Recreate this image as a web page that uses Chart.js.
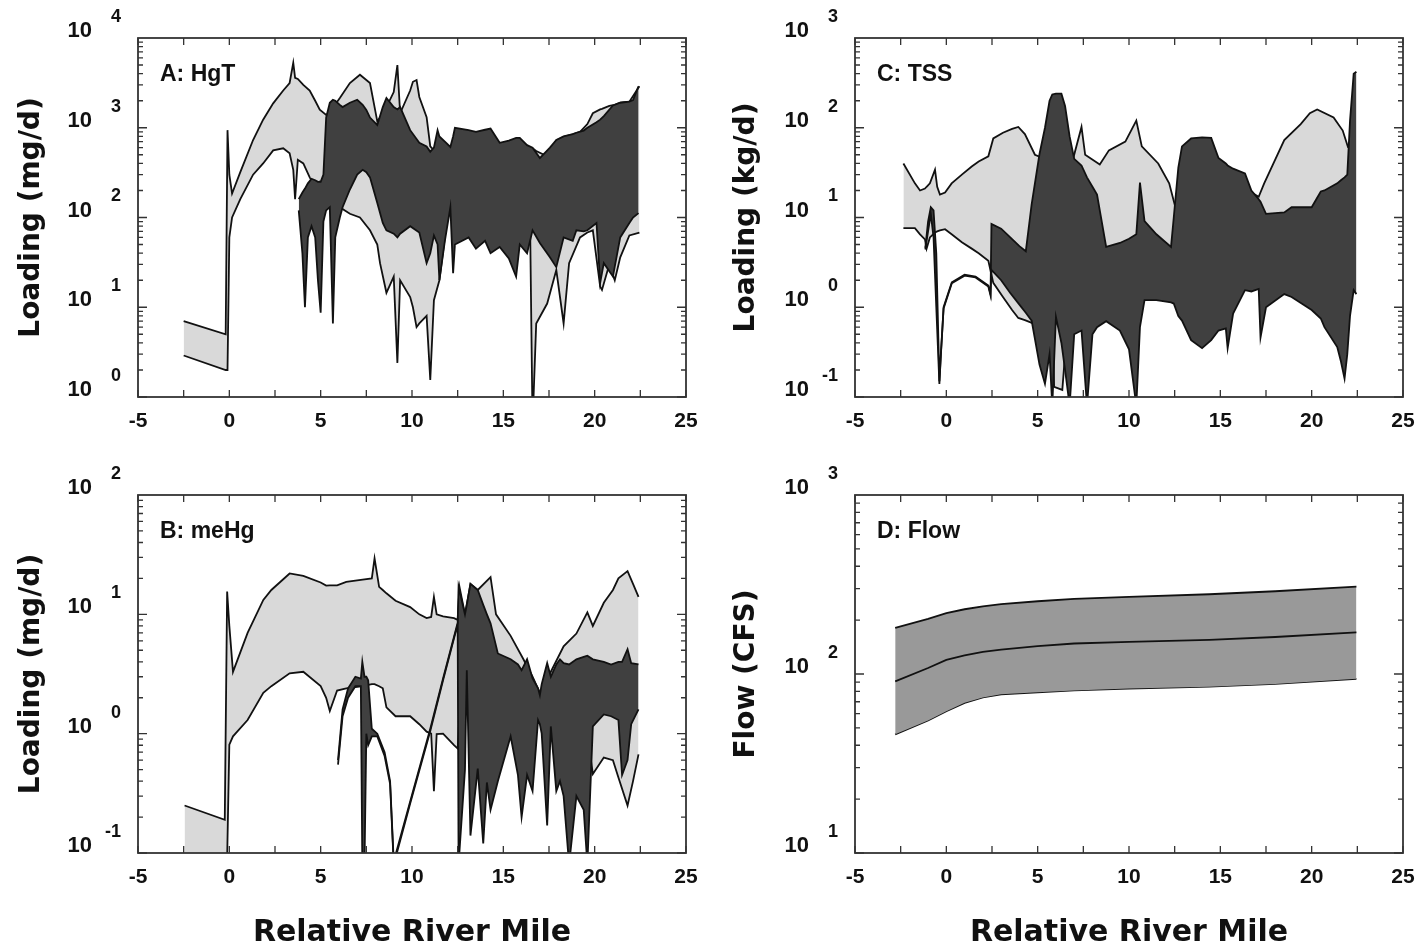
<!DOCTYPE html>
<html>
<head>
<meta charset="utf-8">
<script src="https://cdn.jsdelivr.net/npm/chart.js@4.4.1/dist/chart.umd.min.js"></script>
<style>
  html, body { margin: 0; padding: 0; background: #fff; }
  #wrap { position: relative; width: 1420px; height: 949px; }
  canvas { position: absolute; }
</style>
</head>
<body>
<div id="wrap">
  <canvas id="cA" width="710" height="445" style="left:0;top:0"></canvas>
  <canvas id="cC" width="710" height="445" style="left:710px;top:0"></canvas>
  <canvas id="cB" width="710" height="504" style="left:0;top:445px"></canvas>
  <canvas id="cD" width="710" height="504" style="left:710px;top:445px"></canvas>
</div>
<script>
'use strict';

// ============================================================
//  Data (log values, river mile on x)
// ============================================================

// --- A: HgT (mg/d) ---
const A_LIGHT_X  = [-2.5,-0.2,-0.1,0.0,0.15,0.6,1.3,1.85,2.4,2.95,3.3,3.5,3.6,3.75,4.05,4.4,4.7,4.95,5.3,5.5,6.05,6.6,7.15,7.7,8.1,8.25,8.6,9.0,9.2,9.35,9.9,10.05,10.25,10.4,10.8,11.0,11.2,11.5,11.8,12.0,16.45,16.6,16.8,17.4,17.9,18.3,18.6,19.2,19.6,19.9,20.3,20.4,20.8,21.1,21.4,21.9,22.45];
const A_LIGHT_HI = [7,5,940,300,185,320,730,1230,1870,2600,3150,5300,3600,3500,3000,2600,2000,1590,1390,1500,2150,3150,3900,3150,1180,1300,1700,2500,5000,1450,2600,3250,3400,2200,1310,620,560,560,650,400,400,590,550,480,720,790,820,900,1100,1450,1600,1620,1750,1800,1900,1950,2900];
const A_LIGHT_LO = [2.9,2.0,2.0,60,100,160,300,400,560,590,520,340,160,440,400,280,220,250,185,170,130,110,100,72,50,31,14.5,22,2.4,20,13,10,6,6.6,8,1.55,12,20,60,150,150,0.5,6.6,11,26,6.6,31,60,68,72,17,15.6,30,20,36,63,68];

const A_DARK_X  = [3.8,4.0,4.14,4.3,4.5,4.7,4.85,5.0,5.15,5.3,5.5,5.67,5.8,6.05,6.2,6.6,7.0,7.3,7.5,7.7,8.1,8.4,8.6,9.0,9.2,9.35,9.9,10.4,10.8,11.0,11.2,11.4,11.5,11.8,12.1,12.25,12.35,13.1,13.5,14.0,14.3,14.8,15.3,15.7,15.9,16.3,16.6,17.0,17.55,17.9,18.3,18.8,19.0,19.4,19.6,20.1,20.3,20.5,21.0,21.4,21.9,22.1,22.4];
const A_DARK_HI = [160,190,210,240,270,260,250,250,300,1300,1900,2050,2000,1800,1700,1900,2050,1800,1580,1300,1070,1700,2150,1700,1600,1700,940,680,620,540,600,940,800,700,610,800,1000,940,900,950,980,680,720,770,770,640,600,460,600,730,800,850,880,930,1000,1150,1230,1350,1770,1900,1950,2030,2900];
const A_DARK_LO = [120,40,10,60,80,60,20,8.7,90,120,130,6.6,60,100,130,205,300,340,320,280,145,87,72,66,60,66,80,68,31,40,63,50,20,55,130,24,50,60,45,55,40,47,35,22,50,40,72,52,36,28,60,55,72,70,72,87,18.6,31,22,60,87,100,112];

// --- B: meHg (mg/d) ---
const B_LIGHT_X  = [-2.45,-0.25,-0.12,0.0,0.2,1.0,1.86,2.3,3.3,4.05,5.0,5.3,5.5,5.9,6.4,7.3,7.8,7.95,8.2,8.4,8.6,9.1,9.9,10.4,10.8,11.05,11.2,11.35,11.7,12.3,12.5,12.6,12.9,13.2,13.6,14.3,14.6,15.4,16.1,16.6,17.0,17.6,18.3,19.0,19.6,19.9,20.5,21.0,21.3,21.8,22.1,22.4];
const B_LIGHT_HI = [0.25,0.19,15.5,8,3.3,7,13.2,16,22,21,18.5,17.4,17.5,17.5,18.7,19.5,20,29.4,17,16,15,13,11.5,10,9.3,9.5,14,10,9.6,9.3,9.0,17,10,18,16,20.5,10,6.6,4.2,3.0,2.2,3.3,5.4,6.9,10.4,8.0,12.5,16,20,23,18,14];
const B_LIGHT_LO = [0.09,0.09,0.09,0.81,0.95,1.3,2.2,2.5,3.2,3.3,2.5,2.0,1.55,2.3,2.4,2.5,2.6,2.6,2.5,2.4,1.66,1.4,1.4,1.2,1.04,1.0,0.33,0.99,1.0,0.8,0.75,1.5,3.5,3.5,1.5,1.5,1.5,1.5,1.5,1.5,1.5,1.3,1.2,1.2,1.0,0.46,0.63,0.6,0.43,0.25,0.4,0.67];

const B_DARK_X  = [5.95,6.2,6.5,6.9,7.2,7.28,7.4,7.5,7.6,7.8,8.1,8.5,8.8,9.0,9.9,11.0,11.7,12.3,12.5,12.55,12.9,13.0,13.2,13.6,13.9,14.1,14.3,14.7,15.4,15.8,16.0,16.3,16.6,16.9,17.0,17.1,17.4,17.6,17.9,18.1,18.3,18.6,19.0,19.4,19.6,19.9,20.5,20.9,21.3,21.5,21.8,22.0,22.4];
const B_DARK_HI = [0.6,1.6,2.4,3.0,2.9,4.0,3.0,3.0,2.8,1.1,1.0,0.7,0.4,0.085,0.27,1.1,2.9,6.5,8.5,17,10,12,18,16,12,10,8.4,4.7,4.2,3.8,3.4,4.2,2.9,2.4,2.1,2.6,3.9,3.0,3.8,4.2,3.9,3.8,4.2,4.4,4.5,4.2,4.0,3.8,4.0,4.0,5.1,3.9,3.8];
const B_DARK_LO = [0.55,1.4,2.0,2.5,2.5,0.08,0.08,1.0,0.8,0.95,0.95,0.65,0.38,0.08,0.26,1.05,2.8,6.3,8.2,0.08,0.5,3.4,0.14,0.51,0.12,0.39,0.23,0.4,0.95,0.45,0.2,0.45,0.33,1.3,1.2,1.0,0.17,1.15,0.33,0.4,0.3,0.08,0.3,0.23,0.08,1.15,1.45,1.4,1.3,0.45,0.6,1.2,1.6];

// --- C: TSS (kg/d) ---
const C_LIGHT_X  = [-2.35,-1.72,-1.44,-1.17,-1.08,-0.9,-0.62,-0.5,-0.35,-0.07,0.29,0.85,1.39,1.77,2.3,2.57,3.1,3.6,3.94,4.3,4.85,5.4,5.85,5.9,6.35,6.5,6.9,7.4,7.6,8.4,8.9,9.8,10.4,10.7,11.6,12.2,12.5,13.5,16.5,17.1,17.4,18.5,19.4,19.9,20.3,21.2,21.7,22.0];
const C_LIGHT_HI = [40,24,20,21,22,24,34,22,18,19,24,30,37,42,48,76,88,97,102,85,50,45,44,44,44,44,42,102,50,39,56,70,120,62,40,24,14,20,20,17,24,73,110,145,160,130,93,60];
const C_LIGHT_LO = [7.6,7.6,6.5,5.7,4.5,6,6.8,7,7.2,7.4,6.5,5.3,4.5,4.0,3.3,1.87,1.3,0.93,0.76,0.72,0.65,0.5,0.5,0.13,0.12,0.3,2,2,2,2,2,2,2,2,2,2,2,2,2,2,2,2,2,2,2,2,2,2];

const C_DARK_X  = [-1.15,-1.0,-0.85,-0.7,-0.55,-0.38,-0.3,-0.15,0.3,1.0,1.6,2.3,2.42,2.47,3.0,3.5,4.0,4.35,4.67,5.1,5.4,5.65,5.8,6.0,6.3,6.5,6.75,7.0,7.4,7.7,8.0,8.25,8.75,9.5,10.0,10.4,10.6,10.85,11.5,12.3,12.45,12.7,12.9,13.4,14.0,14.5,14.9,15.3,15.4,15.7,16.35,16.7,17.1,17.2,17.5,18.5,18.9,20.0,20.5,20.7,21.4,21.6,21.8,21.95,22.1,22.3,22.45];
const C_DARK_HI = [4.6,9,13,12,4,0.15,0.3,1.0,1.9,2.3,2.2,1.75,1.4,8.5,7.5,6.0,4.8,4.2,14,51,100,200,235,240,240,175,80,45,38,28,22,18,4.7,5.2,5.8,6.5,24.5,9.1,6.5,4.7,10,36,62,76,78,77,46,40,38,35,31,20,16,15,11,11.4,13,13,19.5,20,24,26,28,30,120,400,420];
const C_DARK_LO = [4.4,7,11,6,1.0,0.14,0.29,0.97,1.85,2.25,2.15,1.7,1.35,2.6,2.0,1.44,1.07,0.87,0.71,0.23,0.14,0.3,0.08,0.78,0.4,0.2,0.08,0.5,0.55,0.08,0.5,0.6,0.7,0.55,0.34,0.08,0.6,1.2,1.2,1.13,1.1,0.8,0.71,0.43,0.35,0.43,0.55,0.58,0.35,0.85,1.55,1.5,1.6,0.46,1.0,1.4,1.3,0.93,0.75,0.6,0.36,0.25,0.16,0.3,0.8,1.55,1.4];

// --- D: Flow (CFS) ---
const D_X     = [-2.8,-1,0,1,2,3,5,7,10,14.4,18,22.45];
const D_UPPER = [181,203,219,230,239,246,255,263,270,279,290,308];
const D_MID   = [91,108,120,127,133,137,143,148,151,155,161,171];
const D_LOWER = [46,55,62,69,74,77,79,81,83,85,88,94];

const X_TICKS_MINOR = 2.5;

// ============================================================
//  Styling
// ============================================================
const LIGHT = '#d9d9d9';
const DARK  = '#404040';
const MID   = '#999999';
const INK   = '#111111';
const SANS  = '"Liberation Sans", Arial, Helvetica, sans-serif';
const WIDE  = '"DejaVu Sans", sans-serif';

function pts(xs, ys) { return xs.map((x, i) => ({ x, y: ys[i] })); }

function line(data, fill, bg) {
  return {
    data, fill, backgroundColor: bg || 'transparent',
    borderColor: INK, borderWidth: 1.8, pointRadius: 0, tension: 0,
  };
}

// frame, inward ticks, "10^k" labels and panel tag
const framePlugin = {
  id: 'frame',
  afterDraw(chart, args, o) {
    const { ctx, chartArea: a, scales: { x, y } } = chart;
    ctx.save();
    ctx.strokeStyle = '#333';
    ctx.lineWidth = 1.8;
    ctx.strokeRect(a.left, a.top, a.width, a.height);

    ctx.lineWidth = 1.3;
    ctx.beginPath();
    for (let v = x.min; v <= x.max + 1e-6; v += X_TICKS_MINOR) {
      const px = x.getPixelForValue(v);
      ctx.moveTo(px, a.top);    ctx.lineTo(px, a.top + 7);
      ctx.moveTo(px, a.bottom); ctx.lineTo(px, a.bottom - 7);
    }
    const k0 = Math.round(Math.log10(y.min));
    const k1 = Math.round(Math.log10(y.max));
    for (let k = k0; k < k1; k++) {
      for (let m = 1; m < 10; m++) {
        const py = y.getPixelForValue(m * Math.pow(10, k));
        const len = m === 1 ? 9 : 5;
        ctx.moveTo(a.left, py);  ctx.lineTo(a.left + len, py);
        ctx.moveTo(a.right, py); ctx.lineTo(a.right - len, py);
      }
    }
    ctx.stroke();

    ctx.fillStyle = INK;
    ctx.textBaseline = 'middle';
    for (let k = k0; k <= k1; k++) {
      const py = y.getPixelForValue(Math.pow(10, k));
      ctx.textAlign = 'right';
      ctx.font = 'bold 22px ' + SANS;
      ctx.fillText('10', a.left - 46, py - 7);
      ctx.font = 'bold 18px ' + SANS;
      ctx.fillText(String(k), a.left - 17, py - 21);
    }
    ctx.textAlign = 'left';
    ctx.font = 'bold 23px ' + SANS;
    ctx.fillText(o.label, a.left + 22, a.top + 37);
    ctx.restore();
  }
};

function makePanel(id, p) {
  return new Chart(document.getElementById(id), {
    type: 'line',
    data: { datasets: p.datasets },
    options: {
      responsive: false, animation: false, events: [],
      layout: { padding: { left: 0, top: p.top, right: p.right, bottom: 0 } },
      plugins: { legend: { display: false }, tooltip: { enabled: false }, frame: { label: p.label } },
      scales: {
        x: {
          type: 'linear', min: -5, max: 25,
          grid: { display: false, drawTicks: false }, border: { display: false },
          ticks: { stepSize: 5, maxRotation: 0, padding: 12, color: INK,
                   font: { family: SANS, size: 21, weight: 'bold' } },
          title: { display: !!p.xTitle, text: p.xTitle || '', color: INK, padding: { top: 0, bottom: -2 },
                   font: { family: WIDE, size: 30, weight: 'bold' } },
          afterFit(s) { s.height = p.xh; s.paddingLeft = 0; s.paddingRight = 0; }
        },
        y: {
          type: 'logarithmic', min: p.yMin, max: p.yMax,
          grid: { display: false, drawTicks: false }, border: { display: false },
          ticks: { display: false },
          title: { display: true, text: p.yTitle, color: INK, padding: { top: p.tpad, bottom: 0 },
                   font: { family: WIDE, size: 28, weight: 'bold' } },
          afterFit(s) { s.width = p.yw; s.paddingTop = 0; s.paddingBottom = 0; }
        }
      }
    },
    plugins: [framePlugin]
  });
}

// dark band first so it is painted over the light one
function bands(lx, lhi, llo, dx, dhi, dlo) {
  return [
    line(pts(dx, dlo), false),
    line(pts(dx, dhi), '-1', DARK),
    line(pts(lx, llo), false),
    line(pts(lx, lhi), '-1', LIGHT),
  ];
}

makePanel('cA', {
  label: 'A: HgT', yTitle: 'Loading (mg/d)', yMin: 1, yMax: 1e4,
  top: 38, right: 24, yw: 138, xh: 48, tpad: 15,
  datasets: bands(A_LIGHT_X, A_LIGHT_HI, A_LIGHT_LO, A_DARK_X, A_DARK_HI, A_DARK_LO)
});

makePanel('cC', {
  label: 'C: TSS', yTitle: 'Loading (kg/d)', yMin: 0.1, yMax: 1e3,
  top: 38, right: 17, yw: 145, xh: 48, tpad: 20,
  datasets: bands(C_LIGHT_X, C_LIGHT_HI, C_LIGHT_LO, C_DARK_X, C_DARK_HI, C_DARK_LO)
});

makePanel('cB', {
  label: 'B: meHg', yTitle: 'Loading (mg/d)', xTitle: 'Relative River Mile', yMin: 0.1, yMax: 100,
  top: 50, right: 24, yw: 138, xh: 96, tpad: 15,
  datasets: bands(B_LIGHT_X, B_LIGHT_HI, B_LIGHT_LO, B_DARK_X, B_DARK_HI, B_DARK_LO)
});

makePanel('cD', {
  label: 'D: Flow', yTitle: 'Flow (CFS)', xTitle: 'Relative River Mile', yMin: 10, yMax: 1000,
  top: 50, right: 17, yw: 145, xh: 96, tpad: 20,
  datasets: [
    line(pts(D_X, D_MID), false),
    line(pts(D_X, D_UPPER), 2, MID),
    line(pts(D_X, D_LOWER), false),
  ]
});
</script>
</body>
</html>
